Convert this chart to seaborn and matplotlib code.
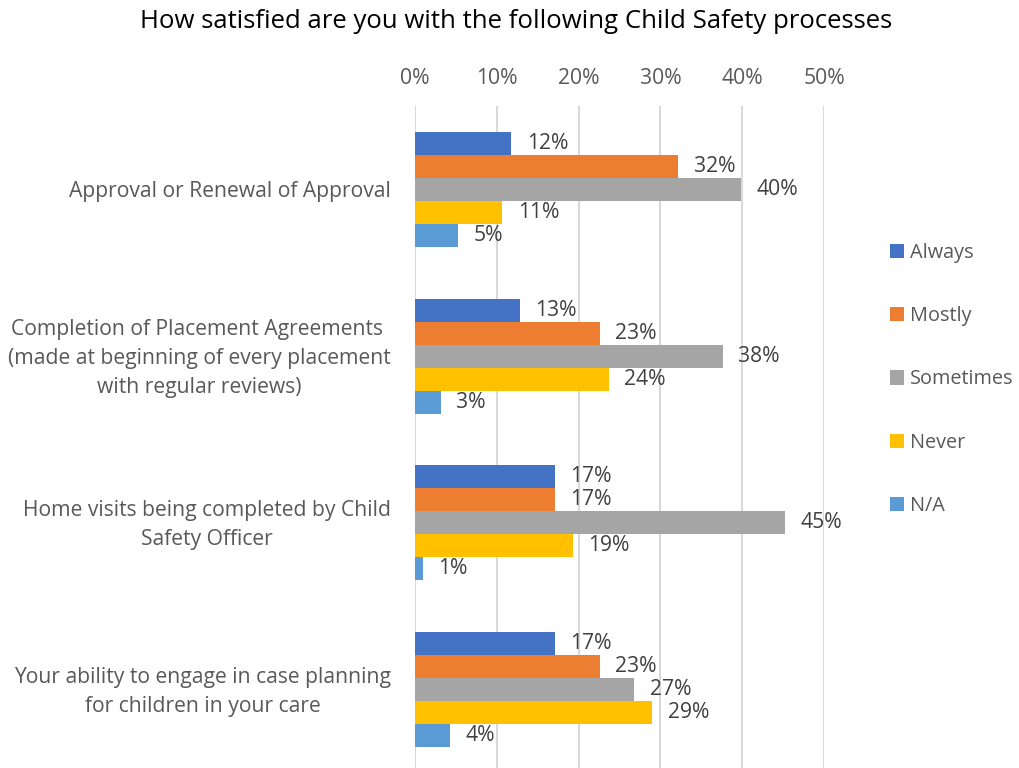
import pandas as pd
import seaborn as sns
import matplotlib.pyplot as plt
from matplotlib.ticker import PercentFormatter
from matplotlib.patches import Patch
from matplotlib.transforms import ScaledTranslation

sns.set_theme(style="white")
plt.rcParams['font.family'] = ['Open Sans', 'DejaVu Sans']

# data (fractions)
questions = [
    'Approval or Renewal of Approval',
    'Completion of Placement Agreements \n(made at beginning of every placement\nwith regular reviews)',
    'Home visits being completed by Child\nSafety Officer',
    'Your ability to engage in case planning\nfor children in your care',
]
answers = ['Always', 'Mostly', 'Sometimes', 'Never', 'N/A']
always = [0.118, 0.128, 0.171, 0.171]
mostly = [0.322, 0.226, 0.171, 0.226]
sometimes = [0.398, 0.376, 0.452, 0.268]
never = [0.107, 0.237, 0.193, 0.290]
na = [0.053, 0.032, 0.010, 0.043]
colors = ['#4472C4', '#ED7D31', '#A5A5A5', '#FFC000', '#5B9BD5']

rows = []
for ans, vals in zip(answers, [always, mostly, sometimes, never, na]):
    for q, v in zip(questions, vals):
        rows.append({'question': q, 'answer': ans, 'share': v})
df = pd.DataFrame(rows)

fs = 15.2

#%%
fig = plt.figure(figsize=(10.19, 7.68), dpi=100)
ax = fig.add_axes([414.7 / 1019, 0, (824.3 - 414.7) / 1019, 1 - 106 / 768])

sns.barplot(ax=ax, data=df, x='share', y='question', hue='answer', order=questions,
            hue_order=answers, palette=colors, orient='h', width=0.69,
            saturation=1, linewidth=0)

for cont in ax.containers:
    ax.bar_label(cont, labels=[f'{v:.0%}' for v in cont.datavalues], padding=11,
                 fontsize=fs, color='#404040')

ax.set_xlim(0, 0.5)
ax.set_ylim(3.47, -0.5)
ax.xaxis.tick_top()
ax.xaxis.set_major_formatter(PercentFormatter(1.0, decimals=0))
ax.set_xticks([0, 0.1, 0.2, 0.3, 0.4, 0.5])
ax.tick_params(axis='x', length=0, pad=12, labelsize=fs, labelcolor='#595959')
ax.tick_params(axis='y', length=0, pad=17, labelsize=fs, labelcolor='#595959')
nudge = ScaledTranslation(0, 4 / 100, fig.dpi_scale_trans)
for lbl in ax.get_yticklabels():
    lbl.set_multialignment('center')
    lbl.set_linespacing(1.5)
    if '\n' in lbl.get_text():
        lbl.set_transform(lbl.get_transform() + nudge)
ax.grid(axis='x', color='#D9D9D9', linewidth=1.5)
ax.set_axisbelow(True)
for s in ax.spines.values():
    s.set_visible(False)
ax.set_xlabel('')
ax.set_ylabel('')

ax.get_legend().remove()
handles = [Patch(facecolor=c, edgecolor='none') for c in colors]
fig.legend(handles, answers, loc='upper left', bbox_to_anchor=(872 / 1019, 1 - 225 / 768),
           frameon=False, fontsize=14.3, labelcolor='#595959', handlelength=0.72,
           handleheight=0.72, handletextpad=0.3, labelspacing=2.18)

fig.text(516 / 1019, 1 - 22 / 768, 'How satisfied are you with the following Child Safety processes',
         ha='center', va='center', fontsize=18.5, color='black')

fig.savefig('out.png', dpi=100)
